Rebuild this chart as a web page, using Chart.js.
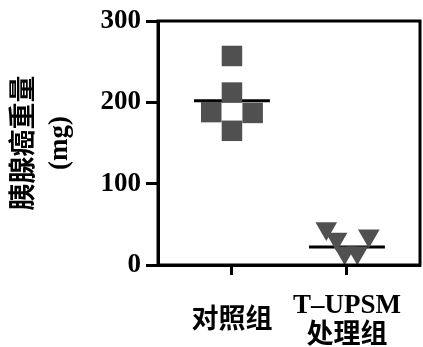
<!DOCTYPE html>
<html>
<head>
<meta charset="utf-8">
<script src="https://cdn.jsdelivr.net/npm/chart.js@4/dist/chart.umd.min.js"></script>
<style>
  html, body { margin: 0; padding: 0; background: #fff; }
  #wrap { width: 423px; height: 347px; }
</style>
</head>
<body>
<div id="wrap"><canvas id="chart" width="423" height="347"></canvas></div>
<script>
// Groups and tick labels
const groupLabels = [['对照组'], ['T–UPSM', '处理组']];
const yTicks = [0, 100, 200, 300];

// Control group (squares): x jitter within group, weight in mg
const controlJitter = [0, 0, -0.18, 0.18, 0];
const controlValues = [257, 212, 188, 187, 165];

// T-UPSM group (inverted triangles)
const treatedJitter = [-0.18, -0.09, 0.19, -0.02, 0.09];
const treatedValues = [45, 32, 36, 15, 15];

// Mean bars
const meanValues = [202, 22];
const meanHalfWidth = 0.33;

const pointColor = '#505050';

function toPoints(groupIndex, jitter, values) {
    return values.map((v, i) => ({ x: groupIndex + jitter[i], y: v }));
}

function meanLine(groupIndex) {
    return [
        { x: groupIndex - meanHalfWidth, y: meanValues[groupIndex] },
        { x: groupIndex + meanHalfWidth, y: meanValues[groupIndex] }
    ];
}

// Draw the frame around the plot area
const framePlugin = {
    id: 'frame',
    afterDraw(chart) {
        const { ctx, chartArea } = chart;
        ctx.save();
        ctx.strokeStyle = '#000';
        ctx.lineWidth = 3;
        ctx.strokeRect(chartArea.left, chartArea.top,
            chartArea.right - chartArea.left, chartArea.bottom - chartArea.top);
        ctx.restore();
    }
};

const serif = "'Liberation Serif', 'Noto Sans CJK SC', serif";

new Chart(document.getElementById('chart'), {
    type: 'scatter',
    data: {
        datasets: [
            {
                type: 'line',
                data: meanLine(0),
                borderColor: '#000',
                borderWidth: 3,
                pointRadius: 0,
                order: 3
            },
            {
                type: 'line',
                data: meanLine(1),
                borderColor: '#000',
                borderWidth: 3,
                pointRadius: 0,
                order: 3
            },
            {
                data: toPoints(0, controlJitter, controlValues),
                pointStyle: 'rect',
                pointRadius: 14.5,
                backgroundColor: pointColor,
                borderColor: pointColor,
                borderWidth: 0,
                order: 1
            },
            {
                data: toPoints(1, treatedJitter, treatedValues),
                pointStyle: 'triangle',
                rotation: 180,
                pointRadius: 12.5,
                backgroundColor: pointColor,
                borderColor: pointColor,
                borderWidth: 0,
                order: 1
            }
        ]
    },
    options: {
        responsive: false,
        animation: false,
        layout: { autoPadding: false, padding: { top: 21, right: 3, left: 0, bottom: 0 } },
        plugins: {
            legend: { display: false },
            tooltip: { enabled: false }
        },
        scales: {
            x: {
                type: 'linear',
                min: -0.643,
                max: 1.635,
                afterBuildTicks(scale) {
                    scale.ticks = groupLabels.map((_, i) => ({ value: i }));
                },
                afterFit(scale) {
                    scale.height = 82;
                    scale.paddingLeft = 0;
                    scale.paddingRight = 0;
                },
                border: { display: true, color: '#000', width: 3 },
                grid: {
                    display: true,
                    drawOnChartArea: false,
                    tickLength: 10,
                    tickWidth: 3,
                    tickColor: '#000'
                },
                ticks: {
                    autoSkip: false,
                    maxRotation: 0,
                    padding: 31,
                    crossAlign: 'center',
                    color: '#000',
                    font: { family: serif, size: 27, weight: 'bold', lineHeight: 1.12 },
                    callback: (v) => groupLabels[Math.round(v)]
                }
            },
            y: {
                min: 0,
                max: 300,
                afterBuildTicks(scale) {
                    scale.ticks = yTicks.map(v => ({ value: v }));
                },
                afterFit(scale) {
                    scale.width = 158;
                    scale.paddingTop = 0;
                    scale.paddingBottom = 0;
                },
                border: { display: true, color: '#000', width: 3 },
                grid: {
                    display: true,
                    drawOnChartArea: false,
                    tickLength: 12,
                    tickWidth: 3,
                    tickColor: '#000'
                },
                ticks: {
                    padding: 5,
                    color: '#000',
                    font: { family: serif, size: 27, weight: 'bold' }
                },
                title: {
                    display: true,
                    text: ['胰腺癌重量', '(mg)'],
                    color: '#000',
                    padding: { top: 7, bottom: 0 },
                    font: { family: serif, size: 27, weight: 'bold', lineHeight: 1.3 }
                }
            }
        }
    },
    plugins: [framePlugin]
});
</script>
</body>
</html>
